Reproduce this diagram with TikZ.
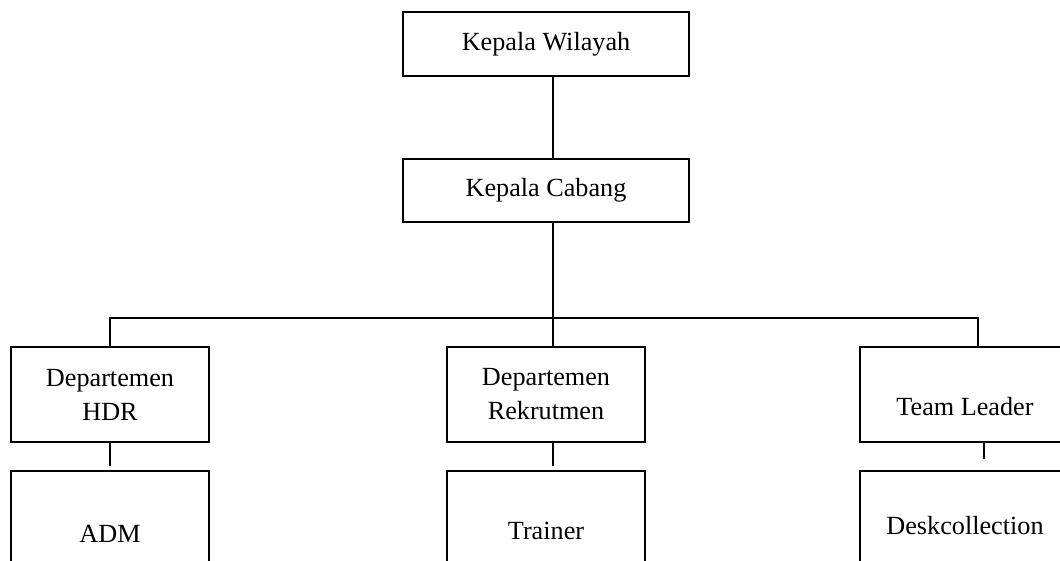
\documentclass[tikz,border=0pt]{standalone}
\usepackage{fontspec}
\setmainfont{Liberation Serif}
\begin{document}
\begin{tikzpicture}[x=1pt,y=-1pt,
  box/.style={draw=black,line width=1.5pt,rectangle,inner sep=0pt,align=center,
    font=\fontsize{26.2pt}{34pt}\selectfont},
  conn/.style={draw=black,line width=1.5pt}]
\useasboundingbox (0,0) rectangle (1060,560);
\clip (0,0) rectangle (1060,560);
\fill[white] (0,0) rectangle (1060,560);
% level 0 and 1
\node[box,minimum width=286pt,minimum height=64pt] (kw) at (546,44) {Kepala Wilayah};
\node[box,minimum width=286pt,minimum height=63pt] (kc) at (546,190.5) {Kepala Cabang};
% level 2
\node[box,minimum width=198pt,minimum height=95pt] (hdr) at (110,394.5) {Departemen\\HDR};
\node[box,minimum width=198pt,minimum height=95pt] (rek) at (546,394.5) {Departemen\\Rekrutmen};
\node[box,minimum width=210pt,minimum height=95pt] (tl) at (965,394.5) {\raisebox{-12.5pt}[\height][\depth]{Team Leader}};
% level 3
\node[box,minimum width=198pt,minimum height=126pt,anchor=north] (adm) at (110,470) {ADM};
\node[box,minimum width=198pt,minimum height=120pt,anchor=north] (tr) at (546,470) {Trainer};
\node[box,minimum width=210pt,minimum height=110pt,anchor=north] (desk) at (965,470) {Deskcollection};
% bus
\coordinate (bus) at (553,318);
\coordinate (busL) at (110,318);
\coordinate (busR) at (978,318);
% connectors
\draw[conn] ([xshift=7pt]kw.south) -- ([xshift=7pt]kc.north);
\draw[conn] ([xshift=7pt]kc.south) -- (bus);
\draw[conn] (hdr.north) -- (busL) -- (busR) -- ([xshift=13pt]tl.north);
\draw[conn] (bus) -- ([xshift=7pt]rek.north);
\draw[conn] (hdr.south) -- ([yshift=4pt]adm.north);
\draw[conn] ([xshift=7pt]rek.south) -- ([xshift=7pt,yshift=4pt]tr.north);
\draw[conn] ([xshift=19pt]tl.south) -- ([xshift=19pt,yshift=11pt]desk.north);
\end{tikzpicture}
\end{document}
